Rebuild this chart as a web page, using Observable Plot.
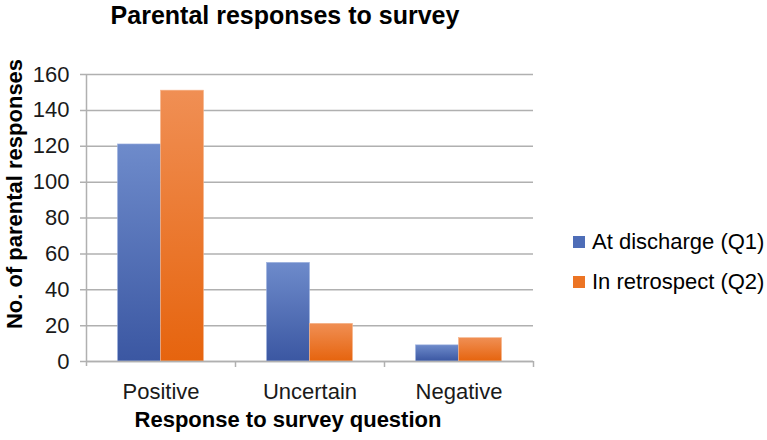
<!DOCTYPE html>
<html>
<head>
<meta charset="utf-8">
<script src="https://cdn.jsdelivr.net/npm/d3@7"></script>
<script src="https://cdn.jsdelivr.net/npm/@observablehq/plot@0.6"></script>
<style>
  html, body { margin: 0; padding: 0; background: #fff; }
  #wrap { position: relative; width: 767px; height: 440px; font-family: "Liberation Sans", Arial, sans-serif; color: #000; }
  #wrap svg { position: absolute; left: 0; top: 0; }
  .title { position: absolute; left: 0; width: 570px; top: -3px; text-align: center; font-weight: bold; font-size: 25px; line-height: 36px; }
  .xlab { position: absolute; left: 86px; width: 404px; top: 407px; text-align: center; font-weight: bold; font-size: 22px; line-height: 26px; }
  .ylab { position: absolute; left: 15px; top: 194px; transform: translate(-50%, -50%) rotate(-90deg); white-space: nowrap; font-weight: bold; font-size: 22px; line-height: 26px; }
  .legend { position: absolute; left: 573px; top: 229px; font-size: 22px; }
  .legend .item { display: flex; align-items: center; height: 26px; margin-bottom: 14px; white-space: nowrap; }
  .legend .sw { width: 12px; height: 12px; margin-right: 7px; }
</style>
</head>
<body>
<div id="wrap"></div>
<script>
const categories = ["Positive", "Uncertain", "Negative"];
const seriesNames = ["At discharge (Q1)", "In retrospect (Q2)"];
const q1Values = [121, 55, 9];
const q2Values = [151, 21, 13];
const yTicks = [0, 20, 40, 60, 80, 100, 120, 140, 160];
const titleText = "Parental responses to survey";
const xLabel = "Response to survey question";
const yLabel = "No. of parental responses";

const q1 = categories.map((c, i) => ({category: c, series: seriesNames[0], value: q1Values[i]}));
const q2 = categories.map((c, i) => ({category: c, series: seriesNames[1], value: q2Values[i]}));

const W = 767, H = 440;
const mL = 86, mR = 234, mT = 74, mB = 79;
const band = (W - mL - mR) / categories.length;
const barW = 43;
const gap = (band - 2 * barW) / 2;

const gridColor = "#b0b0b0";

const plot = Plot.plot({
  width: W, height: H,
  marginLeft: mL, marginRight: mR, marginTop: mT, marginBottom: mB,
  style: {fontFamily: "'Liberation Sans', Arial, sans-serif", background: "transparent"},
  x: {type: "band", domain: categories, padding: 0, label: null},
  y: {domain: [0, 160], label: null},
  marks: [
    Plot.ruleY(yTicks, {stroke: gridColor, strokeWidth: 1.5, insetLeft: -6}),
    Plot.barY(q1, {x: "category", y: "value", fill: "url(#gBlue)", insetLeft: gap, insetRight: band - gap - barW, stroke: "#9fb2df", strokeWidth: 0.6}),
    Plot.barY(q2, {x: "category", y: "value", fill: "url(#gOrange)", insetLeft: gap + barW, insetRight: gap, stroke: "#f6b48a", strokeWidth: 0.6}),
    // y axis line
    Plot.ruleX([categories[0]], {x: d => d, y1: 160, y2: 0, dx: -band / 2, insetBottom: -5, stroke: gridColor, strokeWidth: 1.5}),
    // category boundary ticks
    Plot.ruleX(categories, {x: d => d, y1: 0, y2: 0, dx: band / 2, insetBottom: -6, stroke: gridColor, strokeWidth: 1.5}),
    Plot.ruleY([0], {stroke: gridColor, strokeWidth: 1.5}),
    Plot.axisY({ticks: yTicks, tickSize: 0, tickPadding: 17, fontSize: 22, fill: "#1a1a1a", label: null}),
    Plot.axisX({tickSize: 0, tickPadding: 22, fontSize: 22, fill: "#1a1a1a", label: null})
  ]
});

const defs = d3.select(plot).insert("defs", ":first-child");
const gb = defs.append("linearGradient").attr("id", "gBlue").attr("x1", 0).attr("y1", 0).attr("x2", 0).attr("y2", 1);
gb.append("stop").attr("offset", "0%").attr("stop-color", "#6e8bcb");
gb.append("stop").attr("offset", "100%").attr("stop-color", "#3b57a2");
const go = defs.append("linearGradient").attr("id", "gOrange").attr("x1", 0).attr("y1", 0).attr("x2", 0).attr("y2", 1);
go.append("stop").attr("offset", "0%").attr("stop-color", "#f08f54");
go.append("stop").attr("offset", "100%").attr("stop-color", "#e6640e");

const wrap = document.getElementById("wrap");
wrap.appendChild(plot);

const t = document.createElement("div"); t.className = "title"; t.textContent = titleText; wrap.appendChild(t);
const xl = document.createElement("div"); xl.className = "xlab"; xl.textContent = xLabel; wrap.appendChild(xl);
const yl = document.createElement("div"); yl.className = "ylab"; yl.textContent = yLabel; wrap.appendChild(yl);

const lg = document.createElement("div"); lg.className = "legend";
const swatchColors = ["#4e6db7", "#ec7424"];
seriesNames.forEach((s, i) => {
  const it = document.createElement("div"); it.className = "item";
  const sw = document.createElement("div"); sw.className = "sw"; sw.style.background = swatchColors[i];
  const tx = document.createElement("span"); tx.textContent = s;
  it.appendChild(sw); it.appendChild(tx); lg.appendChild(it);
});
wrap.appendChild(lg);
</script>
</body>
</html>
